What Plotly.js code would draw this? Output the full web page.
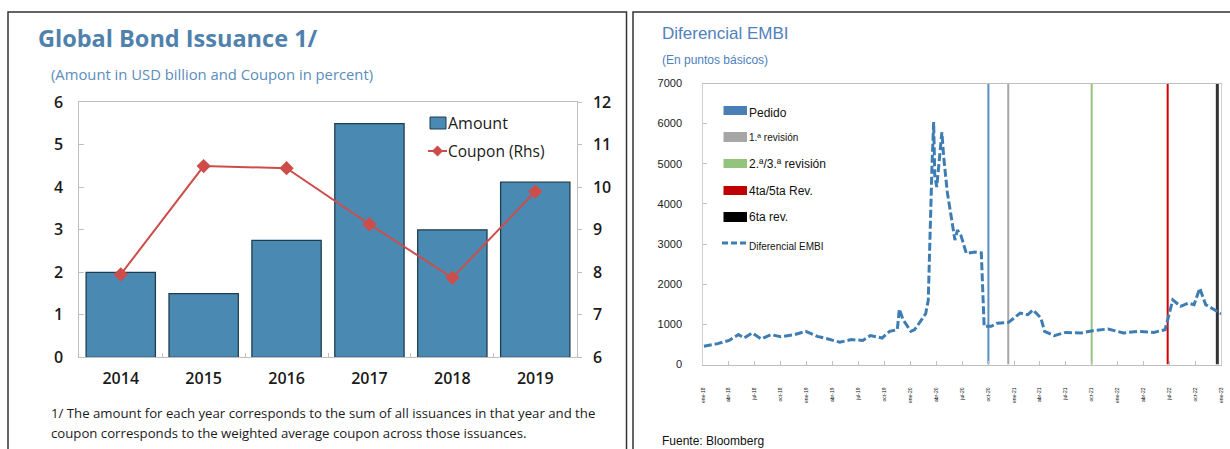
<!DOCTYPE html>
<html><head><meta charset="utf-8">
<script src="https://cdn.plot.ly/plotly-3.0.1.min.js"></script>
<style>html,body{margin:0;padding:0;background:#fff;overflow:hidden}#chart{width:1230px;height:449px}</style>
</head><body><div id="chart"></div>
<script>
// ---------- Left panel data ----------
const years = ['2014', '2015', '2016', '2017', '2018', '2019'];
const amount = [2.0, 1.5, 2.75, 5.5, 3.0, 4.12];
const coupon = [7.95, 10.5, 10.45, 9.13, 7.87, 9.9];

// ---------- Right panel data ----------
const embiDates = ['2018-01-03','2018-02-21','2018-04-02','2018-05-05','2018-05-25','2018-06-22','2018-07-25','2018-08-28','2018-10-01','2018-11-17','2018-12-28',
  '2019-02-07','2019-03-17','2019-04-27','2019-06-07','2019-07-17','2019-08-13','2019-09-23','2019-10-20','2019-11-16','2019-11-23','2019-12-06',
  '2020-01-03','2020-01-16','2020-02-13','2020-02-24','2020-03-04','2020-03-10','2020-03-17','2020-03-23','2020-03-27','2020-04-03','2020-04-10','2020-04-21','2020-04-27',
  '2020-05-10','2020-05-28','2020-06-06','2020-06-15','2020-06-28','2020-07-16','2020-08-15','2020-09-07','2020-09-12','2020-09-17','2020-10-12','2020-11-02','2020-12-12',
  '2021-01-22','2021-02-18','2021-03-08','2021-04-05','2021-04-18','2021-05-22','2021-07-02','2021-08-25','2021-10-05','2021-11-28',
  '2022-01-21','2022-03-15','2022-05-08','2022-06-17','2022-07-14','2022-08-10','2022-09-07','2022-09-27','2022-10-17','2022-11-07','2022-12-10','2023-01-01'];
const embiValues = [455,520,600,745,660,785,635,745,690,740,826,
  700,635,555,620,600,720,660,826,868,1380,1115,
  826,868,1150,1270,1600,3430,4920,6040,4700,4420,5000,5790,5200,
  4300,3500,3100,3350,3200,2770,2800,2780,1900,950,950,1030,1050,
  1280,1240,1360,1160,826,720,800,785,843,884,
  785,826,800,868,1610,1450,1530,1490,1900,1490,1360,1265];
const revLabels = ['Pedido', '1.ª revisión', '2.ª/3.ª revisión', '4ta/5ta Rev.', '6ta rev.'];
const revDates = ['2020-10-02', '2020-12-11', '2021-10-01', '2022-06-26', '2022-12-18'];
const seriesLabel = 'Diferencial EMBI';
const tickDates = ['2018-01-01','2018-04-01','2018-07-01','2018-10-01','2019-01-01','2019-04-01','2019-07-01','2019-10-01','2020-01-01','2020-04-01','2020-07-01','2020-10-01',
  '2021-01-01','2021-04-01','2021-07-01','2021-10-01','2022-01-01','2022-04-01','2022-07-01','2022-10-01','2023-01-01'];
const tickLabels = ['ene-18','abr-18','jul-18','oct-18','ene-19','abr-19','jul-19','oct-19','ene-20','abr-20','jul-20','oct-20',
  'ene-21','abr-21','jul-21','oct-21','ene-22','abr-22','jul-22','oct-22','ene-23'];

// ---------- styles ----------
const revStyle = [
  {color: '#5b8fc0', width: 2},
  {color: '#a6a6a6', width: 2},
  {color: '#93c47d', width: 2},
  {color: '#d40000', width: 2},
  {color: '#333333', width: 3}
];
const revSwatch = ['#4a7fb5', '#a6a6a6', '#93c47d', '#c00000', '#000000'];
const BAR = '#4a8ab2', BAR_LINE = '#1e3d52', RED = '#cd4d4b', EMBI = '#3d7db3';
const TITLE_BLUE = '#4f81ad';

const W = 1230, H = 449;
const X = p => p / W, Y = p => 1 - p / H;
const LF = 'Open Sans', RF = 'Liberation Sans';

const traces = [];
traces.push({type: 'bar', x: years, y: amount, xaxis: 'x', yaxis: 'y', name: 'Amount',
  marker: {color: BAR, line: {color: BAR_LINE, width: 1.3}}, hoverinfo: 'skip'});
traces.push({type: 'scatter', mode: 'lines+markers', x: years, y: coupon, xaxis: 'x', yaxis: 'y2', name: 'Coupon (Rhs)',
  line: {color: RED, width: 2}, marker: {symbol: 'diamond', size: 11, color: RED}, hoverinfo: 'skip'});
revDates.forEach((d, i) => traces.push({type: 'scatter', mode: 'lines', x: [d, d], y: [0, 7000], xaxis: 'x3', yaxis: 'y3',
  name: revLabels[i], line: {color: revStyle[i].color, width: revStyle[i].width}, hoverinfo: 'skip'}));
traces.push({type: 'scatter', mode: 'lines', x: embiDates, y: embiValues, xaxis: 'x3', yaxis: 'y3', name: seriesLabel,
  line: {color: EMBI, width: 3, dash: '8px,3px'}, hoverinfo: 'skip'});

const lfont = {family: LF, size: 16, color: '#1a1a1a', weight: 600};
const rfont = {family: RF, size: 11, color: '#222'};

const ann = [];
function A(x, y, text, font) {
  ann.push({xref: 'paper', yref: 'paper', x: X(x), y: Y(y), xanchor: 'left', yanchor: 'middle', text: text, showarrow: false, font: font});
}
A(36, 38, 'Global Bond Issuance 1/', {family: LF, size: 23.5, color: TITLE_BLUE, weight: 700});
A(49, 74, '(Amount in USD billion and Coupon in percent)', {family: LF, size: 14.8, color: '#5a8dbd'});
A(446, 123, 'Amount', {family: LF, size: 16, color: '#1a1a1a'});
A(446, 151, 'Coupon (Rhs)', {family: LF, size: 15.5, color: '#1a1a1a'});
A(49, 413, '1/ The amount for each year corresponds to the sum of all issuances in that year and the', {family: LF, size: 13.2, color: '#1a1a1a'});
A(49, 433, 'coupon corresponds to the weighted average coupon across those issuances.', {family: LF, size: 13.2, color: '#1a1a1a'});

A(660, 34, 'Diferencial EMBI', {family: RF, size: 17, color: '#4f81bd'});
A(660, 60, '(En puntos básicos)', {family: RF, size: 12, color: '#4f81bd'});
const legY = [113, 137, 164, 191, 217];
const legSize = [12, 10, 12, 12, 12];
revLabels.forEach((t, i) => A(747, legY[i], t, {family: RF, size: legSize[i], color: '#111'}));
A(747, 246, seriesLabel, {family: RF, size: 10, color: '#111'});
A(660, 441, 'Fuente: Bloomberg', {family: RF, size: 12, color: '#111'});

const shapes = [];
function R(x0, y0, x1, y1, fill, line) {
  shapes.push({type: 'rect', xref: 'paper', yref: 'paper', x0: X(x0), x1: X(x1), y0: Y(y1), y1: Y(y0),
    fillcolor: fill, line: line || {width: 0}, layer: 'above'});
}
// panel frames
shapes.push({type: 'rect', xref: 'paper', yref: 'paper', x0: X(8), x1: X(626.5), y0: Y(470), y1: Y(12), line: {color: '#333', width: 1.5}, fillcolor: 'rgba(0,0,0,0)', layer: 'below'});
shapes.push({type: 'rect', xref: 'paper', yref: 'paper', x0: X(633), x1: X(1245), y0: Y(470), y1: Y(12), line: {color: '#333', width: 1.5}, fillcolor: 'rgba(0,0,0,0)', layer: 'below'});
// left legend
R(430, 117, 446, 129, BAR, {color: BAR_LINE, width: 1});
shapes.push({type: 'line', xref: 'paper', yref: 'paper', x0: X(428), x1: X(447), y0: Y(151), y1: Y(151), line: {color: RED, width: 2}});
shapes.push({type: 'path', xref: 'paper', yref: 'paper',
  path: `M ${X(437.5)} ${Y(145.5)} L ${X(443)} ${Y(151)} L ${X(437.5)} ${Y(156.5)} L ${X(432)} ${Y(151)} Z`,
  fillcolor: RED, line: {width: 0}});
// right legend
const swY = [[106, 115], [132, 142], [159, 168], [186, 195], [212, 222]];
revSwatch.forEach((c, i) => R(723.5, swY[i][0], 747, swY[i][1], c));
shapes.push({type: 'line', xref: 'paper', yref: 'paper', x0: X(722), x1: X(747), y0: Y(243), y1: Y(243), line: {color: EMBI, width: 3, dash: '6px,3px'}});

const layout = {
  width: W, height: H, margin: {l: 0, r: 0, t: 0, b: 0}, paper_bgcolor: '#fff', plot_bgcolor: 'rgba(0,0,0,0)',
  showlegend: false, bargap: 0.164,
  xaxis: {domain: [X(79.3), X(576.7)], anchor: 'y', type: 'category', showline: true, linecolor: '#bfbfbf', mirror: true,
    ticks: 'inside', tickson: 'boundaries', ticklen: 4, tickcolor: '#bfbfbf', tickfont: lfont, ticklabelstandoff: 6, showgrid: false, fixedrange: true},
  yaxis: {domain: [Y(357.3), Y(102.3)], anchor: 'x', range: [0, 6], dtick: 1, showline: true, linecolor: '#bfbfbf',
    ticks: 'inside', ticklen: 5, tickcolor: '#bfbfbf', tickfont: lfont, ticklabelstandoff: 12, showgrid: false, zeroline: false, fixedrange: true},
  yaxis2: {overlaying: 'y', side: 'right', anchor: 'x', range: [6, 12], dtick: 1, showline: true, linecolor: '#bfbfbf',
    ticks: 'outside', ticklen: 4, tickcolor: '#bfbfbf', tickfont: lfont, ticklabelstandoff: 8, showgrid: false, zeroline: false, fixedrange: true},
  xaxis3: {domain: [X(703.3), X(1221.3)], anchor: 'y3', type: 'date', range: ['2018-01-01', '2023-01-01'], tickmode: 'array',
    tickvals: tickDates, ticktext: tickLabels, tickangle: -90, tickfont: {family: RF, size: 5, color: '#111'},
    ticks: 'inside', ticklen: 4, tickcolor: '#bfbfbf', showline: true, linecolor: '#bfbfbf', mirror: true, showgrid: false, ticklabelstandoff: 20, fixedrange: true},
  yaxis3: {domain: [Y(364.5), Y(83.5)], anchor: 'x3', range: [0, 7000], dtick: 1000, showline: true, linecolor: '#d0d0d0', mirror: true,
    ticks: 'inside', ticklen: 4, tickcolor: '#bfbfbf', tickfont: rfont, ticklabelstandoff: 18, showgrid: false, zeroline: false, fixedrange: true},
  annotations: ann, shapes: shapes
};
Plotly.newPlot('chart', traces, layout, {staticPlot: true, displayModeBar: false});
</script></body></html>
